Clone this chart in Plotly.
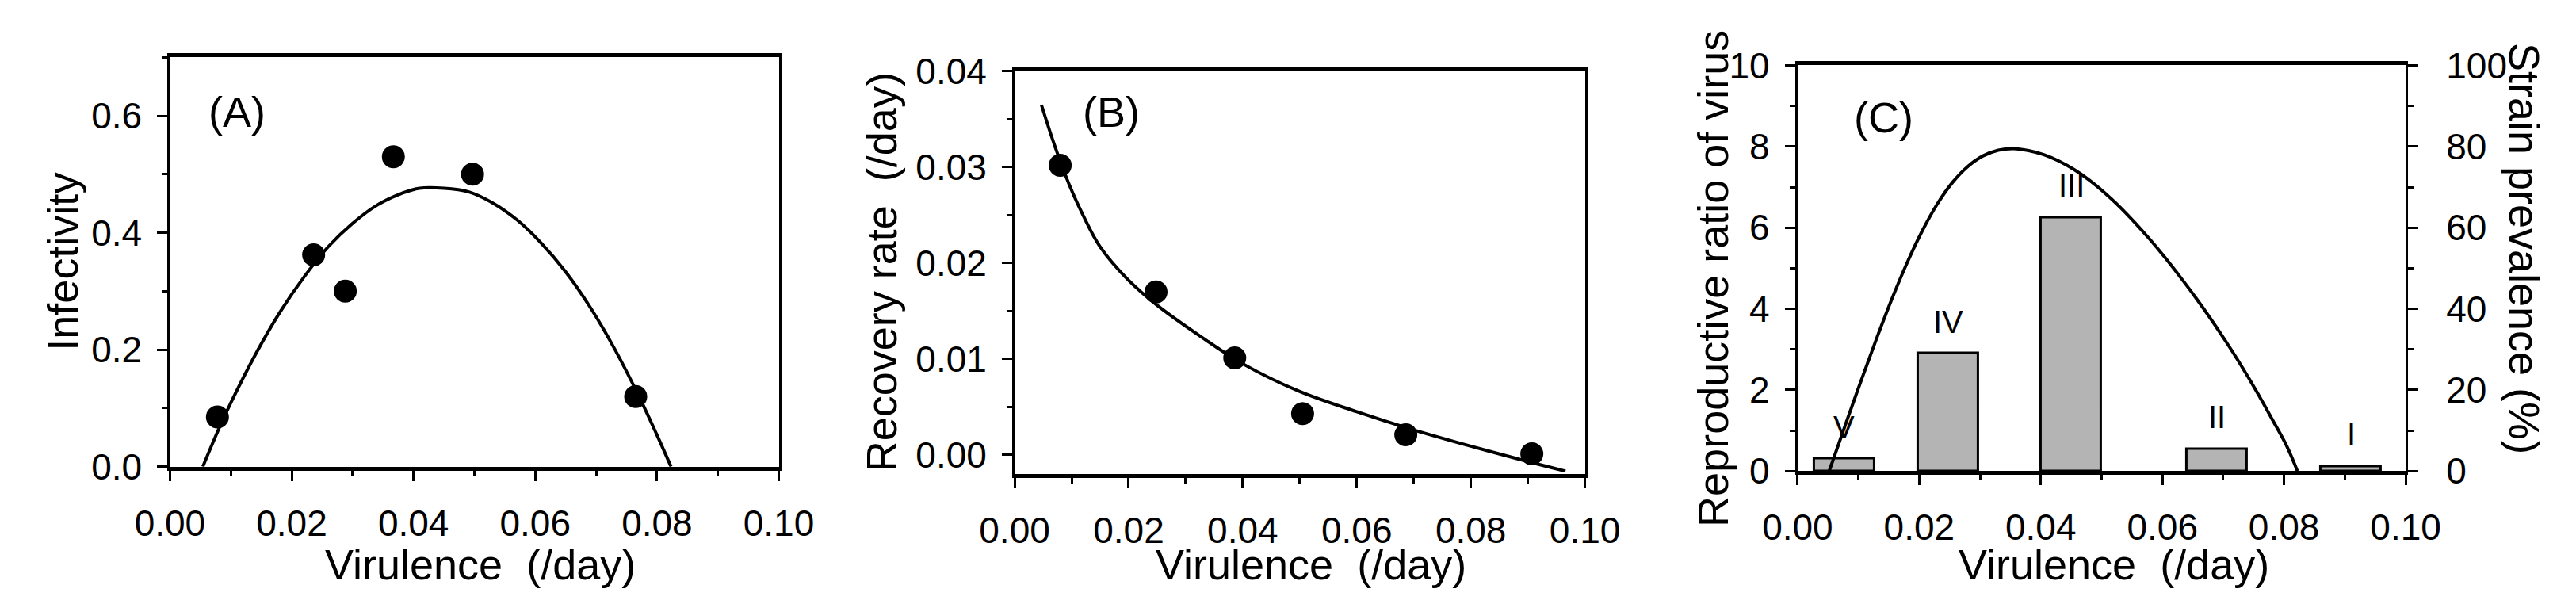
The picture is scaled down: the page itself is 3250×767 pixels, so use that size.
import plotly.graph_objects as go

W, H = 3250, 767

# (A) infectivity vs virulence
A_DOT_X = [0.0078, 0.0236, 0.0288, 0.0367, 0.0497, 0.0765]
A_DOT_Y = [0.085, 0.362, 0.300, 0.530, 0.500, 0.120]
A_FIT_X = [0.0054, 0.008, 0.010, 0.014, 0.018, 0.022, 0.026, 0.030, 0.034, 0.038,
           0.041, 0.045, 0.049, 0.053, 0.057, 0.061, 0.065, 0.069, 0.073, 0.077, 0.080, 0.0823]
A_FIT_Y = [0.0, 0.064, 0.109, 0.191, 0.263, 0.324, 0.376, 0.416, 0.447, 0.467,
           0.476, 0.476, 0.470, 0.451, 0.422, 0.382, 0.333, 0.273, 0.202, 0.121, 0.054, 0.0]

# (B) recovery rate vs virulence
B_DOT_X = [0.0080, 0.0248, 0.0386, 0.0505, 0.0686, 0.0907]
B_DOT_Y = [0.0302, 0.0170, 0.0101, 0.0043, 0.0021, 0.0001]
B_FIT_X = [0.0047, 0.0070, 0.0095, 0.0120, 0.0150, 0.0200, 0.0250, 0.0325, 0.0400,
           0.0500, 0.0600, 0.0700, 0.0800, 0.0900, 0.0966]
B_FIT_Y = [0.0365, 0.0323, 0.0283, 0.0250, 0.0217, 0.0182, 0.0156, 0.0124, 0.0095,
           0.0066, 0.0045, 0.0026, 0.0009, -0.0007, -0.0017]

# (C) reproductive ratio and strain prevalence
C_FIT_X = [0.0052, 0.0080, 0.0105, 0.0130, 0.0155, 0.0180, 0.0205, 0.0230, 0.0255, 0.0280,
           0.0305, 0.0330, 0.0355, 0.0380, 0.0405, 0.0430, 0.0455, 0.0480, 0.0505, 0.0530,
           0.0555, 0.0580, 0.0605, 0.0630, 0.0655, 0.0680, 0.0705, 0.0730, 0.0755, 0.0780,
           0.0805, 0.0822]
C_FIT_Y = [0.0, 1.20, 2.25, 3.27, 4.24, 5.13, 5.92, 6.59, 7.12, 7.51,
           7.77, 7.91, 7.95, 7.90, 7.80, 7.64, 7.43, 7.17, 6.86, 6.51,
           6.12, 5.70, 5.25, 4.77, 4.27, 3.74, 3.18, 2.59, 1.96, 1.29,
           0.60, 0.0]
STRAINS = ["V", "IV", "III", "II", "I"]
STRAIN_X = [0.0077, 0.0248, 0.0450, 0.0690, 0.0910]
STRAIN_PREV = [3.0, 29.0, 62.5, 5.5, 1.2]

FONT = "Liberation Sans, Arial, sans-serif"


def px_x(p):
    return p / W


def px_y(p):
    return 1 - p / H


def xaxis_style(left, right, anchor):
    return dict(
        domain=[px_x(left), px_x(right)], anchor=anchor, range=[0, 0.1],
        tickmode="linear", tick0=0, dtick=0.02, tickformat=".2f",
        ticks="outside", ticklen=13, tickwidth=3, tickcolor="black",
        minor=dict(ticks="outside", dtick=0.01, tick0=0, ticklen=7, tickwidth=3, tickcolor="black"),
        showline=True, linewidth=5, linecolor="black", mirror=True,
        showgrid=False, zeroline=False, ticklabelstandoff=14,
        tickfont=dict(family=FONT, size=46, color="black"),
    )


def yaxis_style(top, bottom, anchor, rng, dtick, fmt, minor, standoff=10):
    return dict(
        domain=[px_y(bottom), px_y(top)], anchor=anchor, range=rng,
        tickmode="linear", tick0=0, dtick=dtick, tickformat=fmt,
        ticks="outside", ticklen=13, tickwidth=3, tickcolor="black",
        minor=dict(ticks="outside", dtick=minor, tick0=0, ticklen=7, tickwidth=3, tickcolor="black"),
        showline=True, linewidth=3, linecolor="black", mirror=True,
        showgrid=False, zeroline=False, ticklabelstandoff=standoff,
        tickfont=dict(family=FONT, size=46, color="black"),
    )


fig = go.Figure()

dot = dict(mode="markers", marker=dict(size=29, color="black"), showlegend=False)
fit = dict(mode="lines", line=dict(color="black", width=4, shape="spline"), showlegend=False)

fig.add_trace(go.Scatter(x=A_FIT_X, y=A_FIT_Y, xaxis="x", yaxis="y", **fit))
fig.add_trace(go.Scatter(x=A_DOT_X, y=A_DOT_Y, xaxis="x", yaxis="y", **dot))
fig.add_trace(go.Scatter(x=B_FIT_X, y=B_FIT_Y, xaxis="x2", yaxis="y2", **fit))
fig.add_trace(go.Scatter(x=B_DOT_X, y=B_DOT_Y, xaxis="x2", yaxis="y2", **dot))

# bars on the right-hand (%) axis, curve on the left axis drawn above them
fig.add_trace(go.Bar(
    x=STRAIN_X, y=STRAIN_PREV, width=0.0099, xaxis="x3", yaxis="y3",
    marker=dict(color="#b4b4b4", line=dict(color="black", width=3)), showlegend=False,
))
fig.add_trace(go.Scatter(x=C_FIT_X, y=C_FIT_Y, xaxis="x3", yaxis="y4", **fit))

fig.update_layout(
    width=W, height=H, margin=dict(l=0, r=0, t=0, b=0),
    paper_bgcolor="white", plot_bgcolor="white",
    font=dict(family=FONT, color="black"),
    xaxis=xaxis_style(166, 956, "y"),
    yaxis=yaxis_style(41, 595, "x", [0, 0.7], 0.2, ".1f", 0.1),
    xaxis2=xaxis_style(1262, 2002, "y2"),
    yaxis2=yaxis_style(60, 605, "x2", [-0.002, 0.04], 0.01, ".2f", 0.005),
    xaxis3=xaxis_style(2278, 3067, "y3"),
    yaxis3=dict(yaxis_style(52, 601, "x3", [0, 100], 20, "d", 10, standoff=26),
                side="right", mirror=False),
    yaxis4=dict(yaxis_style(52, 601, "x3", [0, 10], 2, "d", 1), side="left",
                overlaying="y3", mirror=False),
    bargap=0,
)

ann = []
title_font = dict(family=FONT, size=54, color="black")


def title(text, cx, cy, angle=0):
    return dict(text=text, x=px_x(cx), y=px_y(cy), xref="paper", yref="paper",
                showarrow=False, font=title_font, textangle=angle,
                xanchor="center", yanchor="middle")


for cx in (569, 1647, 2688):
    ann.append(title("Virulence \u00a0(/day)", cx, 727))
ann.append(title("Infectivity", 27, 318, -90))
ann.append(title("Recovery rate \u00a0(/day)", 1090, 332, -90))
ann.append(title("Reproductive ratio of virus", 2168, 340, -90))
ann.append(title("Strain prevalence (%)", 3222, 300, 90))

panel_font = dict(family=FONT, size=54, color="black")
ann.append(dict(text="(A)", x=0.011, y=0.607, xref="x", yref="y", showarrow=False, font=panel_font))
ann.append(dict(text="(B)", x=0.0169, y=0.0358, xref="x2", yref="y2", showarrow=False, font=panel_font))
ann.append(dict(text="(C)", x=0.0141, y=8.72, xref="x3", yref="y4", showarrow=False, font=panel_font))

for name, sx, sy in zip(STRAINS, STRAIN_X, STRAIN_PREV):
    ann.append(dict(text=name, x=sx, y=sy, xref="x3", yref="y3", showarrow=False,
                    yshift=40, font=dict(family=FONT, size=40, color="black")))

fig.update_layout(annotations=ann)
fig.write_html("out.html")
